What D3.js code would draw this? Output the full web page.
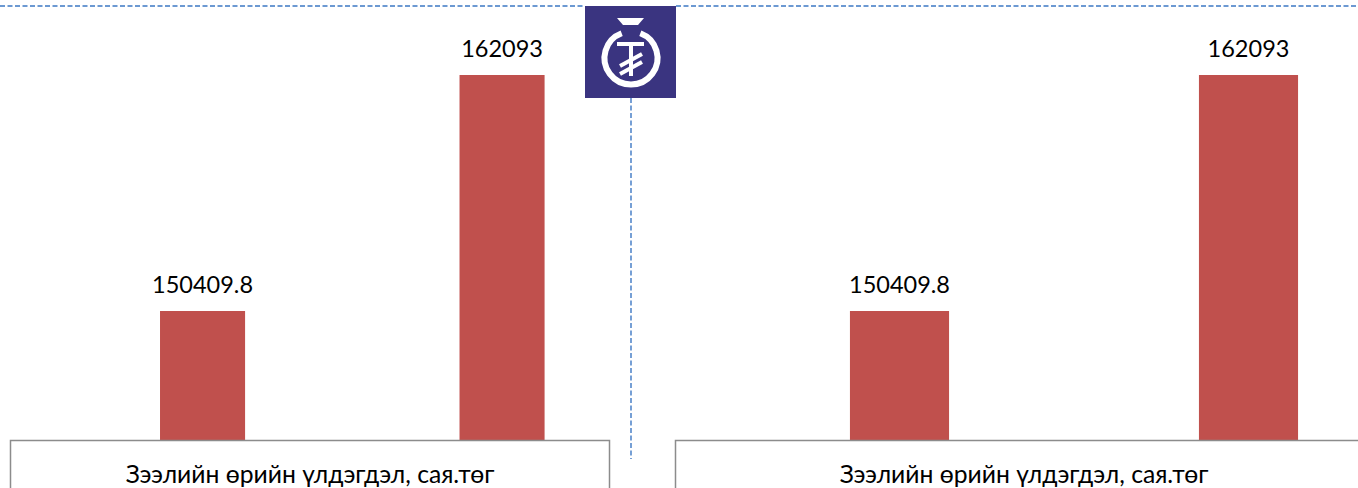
<!DOCTYPE html>
<html><head><meta charset="utf-8">
<script src="https://cdn.jsdelivr.net/npm/d3@7"></script>
<style>html,body{margin:0;padding:0;background:#fff;overflow:hidden}svg{display:block}text{font-family:Lato,"Open Sans",sans-serif;fill:#000}</style>
</head><body><svg id="c" width="1358" height="488"></svg>
<script>
const categories = ["a", "b"];
const seriesLeft = [150409.8, 162093];
const seriesRight = [150409.8, 162093];
const axisTitle = "Зээлийн өрийн үлдэгдэл, сая.төг";

const svg = d3.select("#c");
const barColor = "#c0504d", dash = "#3d78c4", boxStroke = "#8c8c8c";
const y = d3.scaleLinear().domain([144024, 162093]).range([440, 75]);

function chart(values, range, box) {
  const x = d3.scaleBand().domain(categories).range(range).paddingInner(0.716).paddingOuter(0.358);
  const g = svg.append("g");
  g.selectAll("rect.bar").data(values).join("rect").attr("class", "bar")
    .attr("x", (d, i) => x(categories[i])).attr("width", x.bandwidth())
    .attr("y", d => y(d)).attr("height", d => y.range()[0] - y(d)).attr("fill", barColor);
  g.selectAll("text.v").data(values).join("text").attr("class", "v")
    .attr("x", (d, i) => x(categories[i]) + x.bandwidth() / 2)
    .attr("y", d => y(d) - 18.5).attr("text-anchor", "middle").style("font-size", "23.5px")
    .text(d => d);
  g.append("rect").attr("x", box[0] + .5).attr("y", 440.5).attr("width", box[1] - box[0]).attr("height", 80)
    .attr("fill", "#fff").attr("stroke", boxStroke).attr("stroke-width", 1.5);
  g.append("text").attr("x", box[2]).attr("y", 483).attr("text-anchor", "middle")
    .style("font-size", "24.7px").text(axisTitle);
}
chart(seriesLeft, [52.8, 651.8], [10, 609, 310]);
chart(seriesRight, [725, 1423], [675, 1400, 1024]);

// dashed rules
[[0, 6, 585, 6], [676, 6, 1358, 6], [631, 98, 631, 459]].forEach(l =>
  svg.append("line").attr("x1", l[0]).attr("y1", l[1]).attr("x2", l[2]).attr("y2", l[3])
    .attr("stroke", dash).attr("stroke-width", 1.4).attr("stroke-dasharray", "5 2.5"));

// logo
const logo = svg.append("g");
logo.append("rect").attr("x", 585).attr("y", 6).attr("width", 91).attr("height", 92).attr("fill", "#3a3480");
logo.append("path").attr("fill", "none").attr("stroke", "#fff").attr("stroke-width", 6)
  .attr("d", d3.arc()({innerRadius: 26.5, outerRadius: 26.5, startAngle: 0.36, endAngle: 2 * Math.PI - 0.36}))
  .attr("transform", "translate(631,58)");
logo.append("path").attr("fill", "#fff").attr("d", "M617,18H644L638,25H623Z");
logo.append("g").attr("stroke", "#fff").attr("stroke-width", 4).attr("fill", "none").selectAll("path")
  .data(["M617,44H644", "M631,43V76", "M620,66L642,54", "M620,74L642,62"]).join("path").attr("d", d => d);
</script></body></html>
